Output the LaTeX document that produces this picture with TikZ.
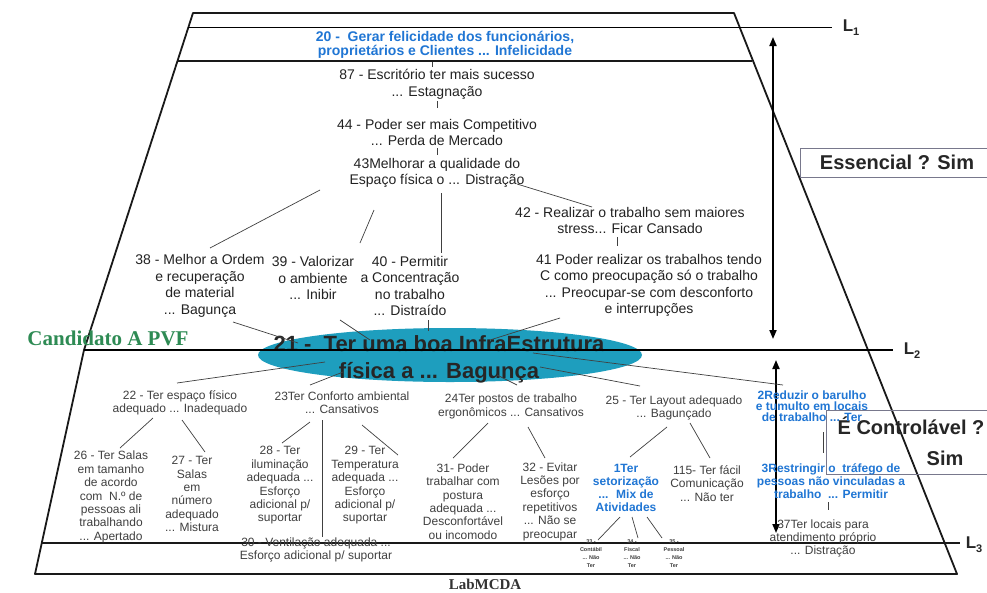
\documentclass[tikz,border=0pt]{standalone}
\usepackage{fontspec}
\setmainfont{Liberation Sans}
\newfontfamily\labserif{Liberation Serif}
\usetikzlibrary{shapes.geometric,arrows.meta,calc}

\definecolor{inktop}{RGB}{34,34,34}
\definecolor{inklow}{RGB}{64,64,64}
\definecolor{goalblue}{RGB}{32,118,212}
\definecolor{ovalteal}{RGB}{30,158,190}
\definecolor{pvfgreen}{RGB}{46,139,84}
\definecolor{boxgray}{RGB}{120,120,140}

\tikzset{
  frame/.style={line width=1.8pt, draw=black!90, line join=round},
  topc/.style={font=\fontsize{14}{16.5}\selectfont, text=inktop, align=center, inner sep=0pt},
  lowc/.style={font=\fontsize{12}{13.4}\selectfont, text=inklow, align=center, inner sep=0pt},
  goal/.style={font=\bfseries\fontsize{14}{14}\selectfont, text=goalblue, align=center, inner sep=0pt},
  bluelow/.style={font=\bfseries\fontsize{12}{13}\selectfont, text=goalblue, align=center, inner sep=0pt},
  tinyc/.style={font=\bfseries\fontsize{5.5}{8}\selectfont, text=inklow, align=center, inner sep=0pt},
  link/.style={line width=0.7pt, draw=inklow},
  levelarrow/.style={line width=1.8pt, {Triangle[length=9pt,width=7pt]}-{Triangle[length=9pt,width=7pt]}},
  verdict/.style={font=\bfseries\fontsize{20}{24}\selectfont, text=black!85, inner sep=0pt},
  lvl/.style={font=\bfseries\fontsize{17}{17}\selectfont, text=black!85, inner sep=0pt},
  judgebox/.style={draw=boxgray, line width=0.8pt},
}

\begin{document}
\begin{tikzpicture}[x=1pt,y=-1pt]
\fill[white] (0,0) rectangle (987,592);
\useasboundingbox (0,0) rectangle (987,592);

% outline of the value tree frame
\coordinate (tl) at (193,13);
\coordinate (tr) at (734,13);
\coordinate (ml) at (84,350);
\coordinate (bl) at (35,574);
\coordinate (br) at (957,574);
\draw[frame] (bl) -- (ml) -- (tl) -- (tr) -- (br) -- cycle;

% level lines
\draw[line width=1pt] (188,27) -- (832,27);
\draw[frame] (178,61) -- (752,61);
\draw[frame] (42,543) -- (960,543);

% level labels
\node[lvl] (lab1) at (851,28) {L\raisebox{-4pt}{\fontsize{11}{11}\selectfont 1}};
\node[lvl] (lab2) at (912,351) {L\raisebox{-4pt}{\fontsize{11}{11}\selectfont 2}};
\node[lvl] (lab3) at (974,545) {L\raisebox{-4pt}{\fontsize{11}{11}\selectfont 3}};

% range arrows
\draw[levelarrow] (773,37) -- (773,339);
\draw[levelarrow] (776,360) -- (776,533);

% verdict boxes
\draw[judgebox] (800,148) rectangle (1000,177);
\node[verdict] (ess) at (897,162) {Essencial ? Sim};
\draw[judgebox] (826,410) rectangle (1000,474);
\node[verdict] (ctl) at (911,426) {É Controlável ?};
\node[verdict] (sim) at (945,458) {Sim};

% upper objectives
\node[goal] (n20) at (445,44.5) {20 -~ Gerar felicidade dos funcionários,\\proprietários e Clientes ... Infelicidade};
\node[topc] (n87) at (437,84.5) {87 - Escritório ter mais sucesso\\... Estagnação};
\node[topc] (n44) at (437,132.5) {44 - Poder ser mais Competitivo\\... Perda de Mercado};
\node[topc] (n43) at (437,173) {43Melhorar a qualidade do\\Espaço física o ... Distração};
\node[topc] (n42) at (630,220.5) {42 - Realizar o trabalho sem maiores\\stress... Ficar Cansado};
\node[topc] (n41) at (649,285.5) {41 Poder realizar os trabalhos tendo\\C como preocupação só o trabalho\\... Preocupar-se com desconforto\\e interrupções};
\node[topc] (n38) at (200,286) {38 - Melhor a Ordem\\e recuperação\\de material\\... Bagunça};
\node[topc] (n39) at (313,278) {39 - Valorizar\\o ambiente\\... Inibir};
\node[topc] (n40) at (410,286) {40 - Permitir\\a Concentração\\no trabalho\\... Distraído};

\node[font=\labserif\bfseries\fontsize{21}{21}\selectfont, text=pvfgreen, inner sep=0pt] (pvf) at (108,338) {Candidato A PVF};

% fundamental point of view
\node[ellipse, fill=ovalteal, minimum width=384pt, minimum height=54pt, inner sep=0pt] (e21) at (450,355) {};
\node[font=\bfseries\fontsize{22}{27}\selectfont, text=black!85, align=center, inner sep=0pt] (n21) at (439,359) {21 -~ Ter uma boa InfraEstrutura\\física a ... Bagunça};
\draw[line width=2.2pt] (ml) -- (893,350);

% lower objectives
\node[lowc] (n22) at (180,403) {22 - Ter espaço físico\\adequado ... Inadequado};
\node[lowc] (n23) at (342,403) {23Ter Conforto ambiental\\... Cansativos};
\node[lowc] (n24) at (511,406.5) {24Ter postos de trabalho\\ergonômicos ... Cansativos};
\node[lowc] (n25) at (674,408) {25 - Ter Layout adequado\\... Bagunçado};
\node[bluelow, font=\bfseries\fontsize{12}{11}\selectfont] (n2R) at (812,406) {2Reduzir o barulho\\e tumulto em locais\\de trabalho ... Ter};
\node[lowc] (n26) at (111,497) {26 - Ter Salas\\em tamanho\\de acordo\\com~ N.º de\\pessoas ali\\trabalhando\\... Apertado};
\node[lowc] (n27) at (192,494) {27 - Ter\\Salas\\em\\número\\adequado\\... Mistura};
\node[lowc] (n28) at (280,485.5) {28 - Ter\\iluminação\\adequada ...\\Esforço\\adicional p/\\suportar};
\node[lowc] (n29) at (365,485.5) {29 - Ter\\Temperatura\\adequada ...\\Esforço\\adicional p/\\suportar};
\node[lowc] (n30) at (316,550) {30 - Ventilação adequada ...\\Esforço adicional p/ suportar};
\node[lowc] (n31) at (463,501.5) {31- Poder\\trabalhar com\\postura\\adequada ...\\Desconfortável\\ou incomodo};
\node[lowc] (n32) at (550,501.5) {32 - Evitar\\Lesões por\\esforço\\repetitivos\\... Não se\\preocupar};
\node[bluelow] (n1) at (626,488) {1Ter\\setorização\\...~ Mix de\\Atividades};
\node[lowc] (n115) at (707,483.5) {115- Ter fácil\\Comunicação\\... Não ter};
\node[bluelow] (n3R) at (831,481) {3Restringir o~ tráfego de\\pessoas não vinculadas a\\trabalho~ ... Permitir};
\node[lowc] (n37) at (823,538.5) {37Ter locais para\\atendimento próprio\\... Distração};
\node[tinyc] (n33) at (591,554) {33 -\\Contábil\\... Não\\Ter};
\node[tinyc] (n34) at (632,554) {34 -\\Fiscal\\... Não\\Ter};
\node[tinyc] (n35) at (674,554) {35 -\\Pessoal\\... Não\\Ter};

\node[font=\labserif\bfseries\fontsize{15}{15}\selectfont, text=black!80, inner sep=0pt] (lab) at (485,584) {LabMCDA};

% links above the fundamental point of view
\draw[link] ($(n20)+(-13,17.5)$) -- ($(n87)+(-5,-17.5)$);
\draw[link] ($(n87)+(0,16.5)$) -- ($(n44)+(0,-24.5)$);
\draw[link] ($(n44)+(0,15.5)$) -- ($(n43)+(0,-18)$);
\draw[link] ($(n43)+(-117,17)$) -- ($(n38)+(10,-38)$);
\draw[link] ($(n43)+(-63,37)$) -- ($(n39)+(47,-35)$);
\draw[link] ($(n43)+(4,20)$) -- ($(n40)+(31,-33)$);
\draw[link] ($(n43)+(80,11)$) -- ($(n42)+(-38,-13.5)$);
\draw[link] ($(n42)+(-13,16.5)$) -- ($(n41)+(-32,-39.5)$);
\draw[link] ($(n38)+(33,36)$) -- ($(e21)+(-152,-12)$);
\draw[link] ($(n39)+(27,42)$) -- ($(e21)+(-80,-15)$);
\draw[link] ($(n40)+(18,34)$) -- ($(e21)+(-22,-24)$);
\draw[link] ($(n41)+(-89,32.5)$) -- ($(e21)+(40,-15)$);

% links below the fundamental point of view
\draw[link] ($(e21)+(-125,7)$) -- ($(n22)+(-3,-20)$);
\draw[link] ($(e21)+(-107,17)$) -- ($(n23)+(-32,-18)$);
\draw[link] ($(e21)+(47,20)$) -- ($(n24)+(6,-21.5)$);
\draw[link] ($(e21)+(90,12)$) -- ($(n25)+(-34,-22)$);
\draw[link] ($(e21)+(83,-2)$) -- ($(n2R)+(-29,-21)$);
\draw[link] ($(n22)+(-27,15)$) -- ($(n26)+(9,-49)$);
\draw[link] ($(n22)+(2,17)$) -- ($(n27)+(13,-42)$);
\draw[link] ($(n23)+(-32,19)$) -- ($(n28)+(2,-42.5)$);
\draw[link] ($(n23)+(20,22)$) -- ($(n29)+(33,-30.5)$);
\draw[link] ($(n23)+(-20,17)$) -- ($(n30)+(6,-13)$);
\draw[link] ($(n24)+(-23,16.5)$) -- ($(n31)+(-10,-43.5)$);
\draw[link] ($(n24)+(17,20.5)$) -- ($(n32)+(-5,-43.5)$);
\draw[link] ($(n25)+(-7,19)$) -- ($(n1)+(4,-31)$);
\draw[link] ($(n25)+(16,15)$) -- ($(n115)+(3,-25.5)$);
\draw[link] ($(n2R)+(11,26)$) -- ($(n3R)+(-8,-28)$);
\draw[link] ($(n3R)+(-3,21)$) -- ($(n37)+(5,-28.5)$);
\draw[link] ($(n1)+(-6,29)$) -- ($(n33)+(7,-14)$);
\draw[link] ($(n1)+(6,29)$) -- ($(n34)+(6,-16)$);
\draw[link] ($(n1)+(21,29)$) -- ($(n35)+(-12,-16)$);
\end{tikzpicture}
\end{document}
